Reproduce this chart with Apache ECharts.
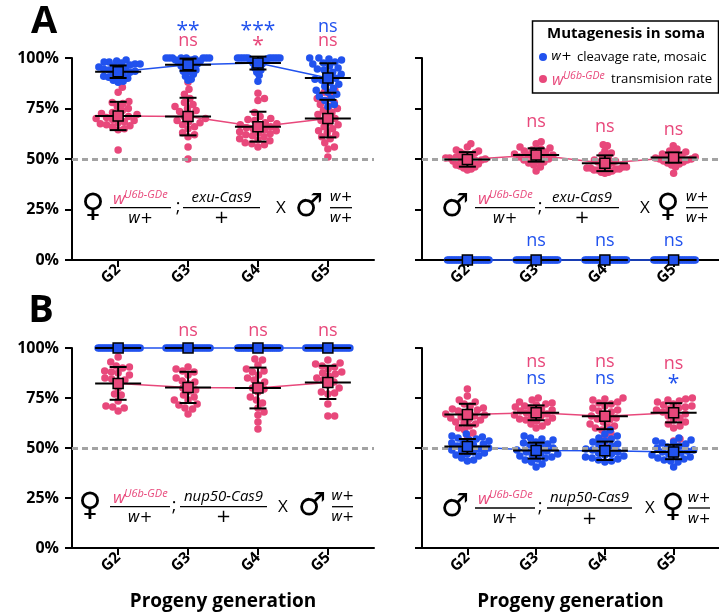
<!DOCTYPE html>
<html>
<head>
<meta charset="utf-8">
<script src="https://cdn.jsdelivr.net/npm/echarts@6/dist/echarts.min.js"></script>
<style>
  html, body { margin: 0; padding: 0; background: #fff; }
  #chart { width: 719px; height: 612px; }
</style>
</head>
<body>
<div id="chart"></div>
<script>
const generations = ['G2', 'G3', 'G4', 'G5'];
const yTicks = [0, 25, 50, 75, 100];

// Panel A, left: female wU6b-GDe ; exu-Cas9 carriers
const exuFemaleCleavage = [
  [99, 98.5, 98, 98, 97.5, 97, 97, 96.5, 96, 95.5, 95, 95, 94.5, 94, 93.5, 93, 92.5, 92, 91.5, 91, 90.5, 90, 89, 88.5, 88],
  [100, 100, 100, 100, 100, 100, 100, 100, 99.5, 99, 99, 98.5, 98, 98, 97.5, 97, 96.5, 96, 95.5, 95, 94, 93.5, 93, 92, 91, 89.5, 89],
  [100, 100, 100, 100, 100, 100, 100, 100, 100, 100, 99.5, 99, 99, 98.5, 98, 97.5, 97, 96, 95, 94, 93, 91.5, 88.5],
  [100, 100, 99.5, 99, 98, 97.5, 97, 96, 95, 94.5, 94, 93, 92, 91, 90, 89.5, 89, 88, 87, 86, 85, 84, 83, 82, 81, 80, 79, 77, 76]
];
const exuFemaleCleavageMean = [93.2, 96.7, 97.5, 90.1];
const exuFemaleCleavageSD = [3.1, 3.0, 3.2, 7.3];
const exuFemaleTransmission = [
  [85.5, 83, 78.5, 78, 77.5, 76, 75, 74, 73, 72.5, 72, 71.5, 71, 70.5, 70, 69.5, 69, 68.5, 68, 67.5, 67, 66.5, 66, 65, 64.5, 54.5],
  [88, 84.5, 82, 80, 78, 77, 76, 75, 74, 73.5, 72, 71, 70, 69, 68.5, 68, 67, 66, 65, 63, 62, 61, 56, 50],
  [82.5, 80, 79, 73, 71, 70, 69.5, 69, 68, 67.5, 67, 66.5, 66, 65.5, 65, 64.5, 64, 63.5, 63, 62.5, 62, 61.5, 61, 60, 59.5, 59, 58, 57.5, 57, 56],
  [84, 83, 81.5, 80, 79, 78, 77, 76, 75, 74, 73, 72, 71, 70, 69, 68, 67, 66, 65, 64, 63, 62, 61, 60, 58, 56, 55, 51]
];
const exuFemaleTransmissionMean = [71.3, 71.0, 66.0, 70.0];
const exuFemaleTransmissionSD = [7.0, 9.3, 7.4, 9.3];

// Panel A, right: male wU6b-GDe ; exu-Cas9 carriers
const exuMaleCleavage = [
  [0, 0, 0, 0, 0, 0, 0, 0, 0, 0, 0, 0, 0, 0, 0, 0, 0, 0, 0, 0, 0, 0, 0, 0],
  [0, 0, 0, 0, 0, 0, 0, 0, 0, 0, 0, 0, 0, 0, 0, 0, 0, 0, 0, 0, 0, 0, 0, 0],
  [0, 0, 0, 0, 0, 0, 0, 0, 0, 0, 0, 0, 0, 0, 0, 0, 0, 0, 0, 0, 0, 0, 0, 0],
  [0, 0, 0, 0, 0, 0, 0, 0, 0, 0, 0, 0, 0, 0, 0, 0, 0, 0, 0, 0, 0, 0, 0, 0]
];
const exuMaleCleavageMean = [0, 0, 0, 0];
const exuMaleCleavageSD = [0, 0, 0, 0];
const exuMaleTransmission = [
  [57.5, 56, 54.5, 54, 53.5, 53, 52.5, 52, 51.5, 51, 50.5, 50.5, 50, 50, 49.5, 49.5, 49, 49, 48.5, 48, 47.5, 47, 46.5, 46, 45.5, 45, 44.5],
  [58.5, 57.5, 56, 55.5, 55, 54.5, 54, 53.5, 53, 52.5, 52, 52, 51.5, 51, 50.5, 50, 49.5, 49, 48.5, 48, 47, 46, 44],
  [57, 56.5, 54, 53, 52, 51, 50, 49.5, 49, 48.5, 48, 47.5, 47, 46.5, 46, 46, 45.5, 45.5, 45, 45, 44.5, 44.5, 44, 43.5, 43.5, 43],
  [56.5, 55, 54, 53.5, 53, 52.5, 52, 51.5, 51, 51, 50.5, 50.5, 50, 50, 49.5, 49.5, 49, 48.5, 48, 47.5, 47, 46, 43]
];
const exuMaleTransmissionMean = [49.8, 52.0, 47.9, 50.7];
const exuMaleTransmissionSD = [3.6, 3.3, 3.9, 2.5];

// Panel B, left: female wU6b-GDe ; nup50-Cas9 carriers
const nupFemaleCleavage = [
  [100, 100, 100, 100, 100, 100, 100, 100, 100, 100, 100, 100, 100, 100, 100, 100, 100, 100, 100, 100, 100, 100],
  [100, 100, 100, 100, 100, 100, 100, 100, 100, 100, 100, 100, 100, 100, 100, 100, 100, 100, 100, 100, 100],
  [100, 100, 100, 100, 100, 100, 100, 100, 100, 100, 100, 100, 100, 100, 100, 100, 100, 100, 100, 100, 100, 100, 100, 100],
  [100, 100, 100, 100, 100, 100, 100, 100, 100, 100, 100, 100, 100, 100, 100, 100, 100, 100, 100, 100, 100]
];
const nupFemaleCleavageMean = [100, 100, 100, 100];
const nupFemaleCleavageSD = [0, 0, 0, 0];
const nupFemaleTransmission = [
  [95.5, 93, 91, 90.5, 90, 88.5, 88, 87.5, 86.5, 85, 84.5, 84, 83.5, 80, 77, 76.5, 73.5, 71, 70.5, 70, 68.5],
  [90.5, 89.5, 88.5, 88, 86.5, 85, 83.5, 83, 82, 80, 79, 78.5, 76.5, 75.5, 74, 74, 72, 71.5, 70, 69.5, 67],
  [94.5, 94, 91.5, 89.5, 88.5, 88, 86.5, 85, 84, 83, 81.5, 80, 79.5, 78, 75.5, 74, 72.5, 70, 68, 66.5, 63, 59.5],
  [94, 92.5, 92, 91, 90.5, 89.5, 88, 87.5, 87, 86, 85, 84, 83, 81.5, 80, 78, 77.5, 77, 72, 66, 66]
];
const nupFemaleTransmissionMean = [82.3, 80.3, 80.0, 82.8];
const nupFemaleTransmissionSD = [8.2, 7.8, 10.2, 8.3];

// Panel B, right: male wU6b-GDe ; nup50-Cas9 carriers
const nupMaleCleavage = [
  [57, 56, 55.5, 55, 54.5, 54, 53.5, 53, 52.5, 52, 51.5, 51, 50.5, 50, 49.5, 49, 48.5, 48, 47.5, 47, 46.5, 46, 45, 44, 43.5],
  [56, 55, 54.5, 54, 53, 52.5, 52, 51.5, 51, 50, 49.5, 49, 48.5, 48, 47.5, 47, 46.5, 46, 45.5, 45, 44.5, 44, 43, 42, 40.5],
  [59, 57, 56, 55, 54.5, 53.5, 53, 52, 51.5, 51, 50, 49.5, 49, 48, 47.5, 47, 46.5, 46, 45.5, 45, 44.5, 44, 43.5, 43],
  [55, 54, 53.5, 53, 52.5, 52, 51, 50.5, 50, 49.5, 49, 48.5, 48, 47.5, 47, 46.5, 46, 45.5, 45, 44.5, 44, 43.5, 43, 40.5]
];
const nupMaleCleavageMean = [50.8, 48.7, 48.6, 48.0];
const nupMaleCleavageSD = [3.7, 4.0, 4.6, 3.6];
const nupMaleTransmission = [
  [79.5, 76, 74, 73, 72, 71, 70, 69.5, 69, 68.5, 68, 67, 66.5, 66, 65.5, 65, 64.5, 64, 63, 62.5, 62, 61, 60, 59, 57.5, 56],
  [75, 74, 73, 72.5, 72, 71.5, 71, 70.5, 70, 69.5, 69, 68.5, 68, 67.5, 67, 66.5, 66, 65.5, 65, 64.5, 64, 63.5, 63, 62, 61, 60],
  [75, 74.5, 74, 73, 72.5, 72, 71, 70, 69, 68.5, 68, 67, 66, 65, 64.5, 64, 63, 62, 61, 60.5, 60, 59, 57.5, 56, 51],
  [75, 74.5, 74, 73.5, 73, 72, 71.5, 71, 70.5, 70, 69.5, 69, 68, 67.5, 67, 66, 65, 64, 63, 62, 61, 60, 54.5, 53.5]
];
const nupMaleTransmissionMean = [66.7, 67.6, 65.9, 67.6];
const nupMaleTransmissionSD = [5.4, 3.7, 6.5, 4.8];

// Significance marks per generation (vs G2)
const exuFemaleCleavageSig = ['', '**', '***', 'ns'];
const exuFemaleTransmissionSig = ['', 'ns', '*', 'ns'];
const exuMaleCleavageSig = ['', 'ns', 'ns', 'ns'];
const exuMaleTransmissionSig = ['', 'ns', 'ns', 'ns'];
const nupFemaleTransmissionSig = ['', 'ns', 'ns', 'ns'];
const nupMaleCleavageSig = ['', 'ns', 'ns', '*'];
const nupMaleTransmissionSig = ['', 'ns', 'ns', 'ns'];

const BLUE = '#2152ee';
const PINK = '#e8487b';
const FONT = '"Open Sans", "DejaVu Sans", sans-serif';

const panels = [
  { grid: { left: 72, top: 58, width: 302, height: 202 }, showY: true, xName: '',
    blue: exuFemaleCleavage, blueMean: exuFemaleCleavageMean, blueSD: exuFemaleCleavageSD,
    pink: exuFemaleTransmission, pinkMean: exuFemaleTransmissionMean, pinkSD: exuFemaleTransmissionSD },
  { grid: { left: 422, top: 58, width: 302, height: 202 }, showY: false, xName: '',
    blue: exuMaleCleavage, blueMean: exuMaleCleavageMean, blueSD: exuMaleCleavageSD,
    pink: exuMaleTransmission, pinkMean: exuMaleTransmissionMean, pinkSD: exuMaleTransmissionSD },
  { grid: { left: 72, top: 348, width: 302, height: 201.5 }, showY: true, xName: 'Progeny generation',
    blue: nupFemaleCleavage, blueMean: nupFemaleCleavageMean, blueSD: nupFemaleCleavageSD,
    pink: nupFemaleTransmission, pinkMean: nupFemaleTransmissionMean, pinkSD: nupFemaleTransmissionSD },
  { grid: { left: 422, top: 348, width: 302, height: 201.5 }, showY: false, xName: 'Progeny generation',
    blue: nupMaleCleavage, blueMean: nupMaleCleavageMean, blueSD: nupMaleCleavageSD,
    pink: nupMaleTransmission, pinkMean: nupMaleTransmissionMean, pinkSD: nupMaleTransmissionSD }
];

const chart = echarts.init(document.getElementById('chart'), null, { renderer: 'canvas' });

const genTicks = [1, 2, 3, 4];
const baseOption = {
  animation: false,
  backgroundColor: '#fff',
  grid: panels.map(p => Object.assign({ containLabel: false }, p.grid)),
  xAxis: panels.map((p, i) => ({
    type: 'value', gridIndex: i, min: 0.34, max: 4.66,
    name: p.xName, nameLocation: 'middle', nameGap: 44,
    nameTextStyle: { fontFamily: FONT, fontWeight: 'bold', fontSize: 19, color: '#000' },
    axisLine: { onZero: false, lineStyle: { color: '#000', width: 2 } },
    axisTick: { customValues: genTicks, length: 7, lineStyle: { color: '#000', width: 2 } },
    axisLabel: { customValues: genTicks, rotate: 45, margin: 7, color: '#000',
      fontFamily: FONT, fontWeight: 'bold', fontSize: 15.5,
      formatter: v => generations[Math.round(v) - 1] || '' },
    splitLine: { show: false }
  })),
  yAxis: panels.map((p, i) => ({
    type: 'value', gridIndex: i, min: yTicks[0], max: yTicks[yTicks.length - 1], interval: 25,
    axisLine: { show: true, onZero: false, lineStyle: { color: '#000', width: 2 } },
    axisTick: { show: true, length: 7, lineStyle: { color: '#000', width: 2 } },
    axisLabel: { show: p.showY, formatter: '{value}%', color: '#000', margin: 13,
      fontFamily: FONT, fontWeight: 'bold', fontSize: 16 },
    splitLine: { show: false }
  }))
};
chart.setOption(baseOption);

// Pixel scale of the data axes, used to spread points sideways
const o = chart.convertToPixel({ gridIndex: 0 }, [1, 0]);
const q = chart.convertToPixel({ gridIndex: 0 }, [2, 100]);
const pxPerGen = q[0] - o[0];
const pxPerPct = (o[1] - q[1]) / 100;

// Beeswarm offsets (in pixels) for one column of values
function swarm(values, d, maxHalf) {
  const pts = values.map((v, i) => ({ y: v * pxPerPct, i }));
  pts.sort((a, b) => a.y - b.y);
  const placed = [];
  const off = new Array(values.length).fill(0);
  for (const p of pts) {
    const cands = [0];
    for (const r of placed) {
      const dy = Math.abs(p.y - r.y);
      if (dy < d) {
        const dx = Math.sqrt(d * d - dy * dy);
        cands.push(r.x + dx, r.x - dx);
      }
    }
    cands.sort((a, b) => Math.abs(a) - Math.abs(b) || b - a);
    let chosen = 0;
    for (const c of cands) {
      if (placed.every(r => (r.x - c) ** 2 + (r.y - p.y) ** 2 >= d * d - 1e-6)) { chosen = c; break; }
    }
    p.x = chosen;
    placed.push(p);
    off[p.i] = chosen;
  }
  const m = Math.max(...off.map(Math.abs));
  if (m > maxHalf) for (let k = 0; k < off.length; k++) off[k] *= maxHalf / m;
  return off;
}

function pointData(groups) {
  const out = [];
  groups.forEach((vals, g) => {
    const off = swarm(vals, 6.8, 22);
    vals.forEach((v, k) => out.push([g + 1 + off[k] / pxPerGen, v]));
  });
  return out;
}

function errorBars(mean, sd) {
  return mean.map((m, g) => [g + 1, m, sd[g]]);
}

function renderErr(params, api) {
  const x = api.value(0), m = api.value(1), s = api.value(2);
  const c = api.coord([x, m]);
  const st = { stroke: '#000', lineWidth: 2 };
  const kids = [{ type: 'line', shape: { x1: c[0] - 23, y1: c[1], x2: c[0] + 23, y2: c[1] }, style: st }];
  if (s > 0) {
    const t = api.coord([x, m + s]), b = api.coord([x, m - s]);
    kids.push({ type: 'line', shape: { x1: c[0], y1: t[1], x2: c[0], y2: b[1] }, style: st });
    kids.push({ type: 'line', shape: { x1: c[0] - 8.5, y1: t[1], x2: c[0] + 8.5, y2: t[1] }, style: st });
    kids.push({ type: 'line', shape: { x1: c[0] - 8.5, y1: b[1], x2: c[0] + 8.5, y2: b[1] }, style: st });
  }
  return { type: 'group', children: kids };
}

const series = [];
panels.forEach((p, i) => {
  const ax = { xAxisIndex: i, yAxisIndex: i };
  series.push(Object.assign({
    type: 'line', data: [], z: 1, silent: true,
    markLine: { silent: true, symbol: 'none', label: { show: false },
      lineStyle: { color: '#a3a3a3', width: 3, type: [6, 4] },
      data: [{ yAxis: 50 }] }
  }, ax));
  series.push(Object.assign({ type: 'scatter', clip: false, z: 2, symbolSize: 7.5,
    itemStyle: { color: PINK, opacity: 1 }, data: pointData(p.pink) }, ax));
  series.push(Object.assign({ type: 'scatter', clip: false, z: 3, symbolSize: 7.5,
    itemStyle: { color: BLUE, opacity: 1 }, data: pointData(p.blue) }, ax));
  series.push(Object.assign({ type: 'line', z: 4, symbol: 'none', clip: false,
    lineStyle: { color: PINK, width: 1.5 }, data: p.pinkMean.map((m, g) => [g + 1, m]) }, ax));
  series.push(Object.assign({ type: 'line', z: 4, symbol: 'none', clip: false,
    lineStyle: { color: BLUE, width: 1.5 }, data: p.blueMean.map((m, g) => [g + 1, m]) }, ax));
  series.push(Object.assign({ type: 'custom', z: 5, clip: false, renderItem: renderErr,
    data: errorBars(p.pinkMean, p.pinkSD) }, ax));
  series.push(Object.assign({ type: 'custom', z: 5, clip: false, renderItem: renderErr,
    data: errorBars(p.blueMean, p.blueSD) }, ax));
  series.push(Object.assign({ type: 'scatter', z: 6, clip: false, symbol: 'rect', symbolSize: 10,
    itemStyle: { color: PINK, borderColor: '#000', borderWidth: 1.5, opacity: 1 },
    data: p.pinkMean.map((m, g) => [g + 1, m]) }, ax));
  series.push(Object.assign({ type: 'scatter', z: 6, clip: false, symbol: 'rect', symbolSize: 10,
    itemStyle: { color: BLUE, borderColor: '#000', borderWidth: 1.5, opacity: 1 },
    data: p.blueMean.map((m, g) => [g + 1, m]) }, ax));
});

// ---------- text overlays ----------
const graphics = [];
function txt(x, y, s, o2) {
  graphics.push({ type: 'text', x, y, z: 50, style: Object.assign({
    text: s, fill: '#000', fontFamily: FONT, fontSize: 15, align: 'center', verticalAlign: 'middle'
  }, o2 || {}) });
}
function hline(x1, x2, y, w) {
  graphics.push({ type: 'line', z: 50, shape: { x1, y1: y, x2, y2: y }, style: { stroke: '#000', lineWidth: w || 1.3 } });
}

// significance marks
function sigRow(gridIndex, labels, color, ys) {
  labels.forEach((s, g) => {
    if (!s) return;
    const px = chart.convertToPixel({ gridIndex }, [g + 1, 0])[0];
    const star = s.indexOf('*') >= 0;
    txt(px, ys[g] + (star ? 5 : 0), s, { fill: color, fontSize: star ? 21 : 18 });
  });
}
sigRow(0, exuFemaleCleavageSig, BLUE, [0, 26, 26, 27]);
sigRow(0, exuFemaleTransmissionSig, PINK, [0, 41, 41, 41]);
sigRow(1, exuMaleTransmissionSig, PINK, [0, 122, 127, 130]);
sigRow(1, exuMaleCleavageSig, BLUE, [0, 241, 241, 241]);
sigRow(2, nupFemaleTransmissionSig, PINK, [0, 331, 331, 331]);
sigRow(3, nupMaleTransmissionSig, PINK, [0, 362, 362, 364]);
sigRow(3, nupMaleCleavageSig, BLUE, [0, 379, 379, 379]);

// panel letters
txt(44, 22, 'A', { fontWeight: 'bold', fontSize: 38 });
txt(41, 311, 'B', { fontWeight: 'bold', fontSize: 38 });

// genotype crosses
const ALLELE = { fontStyle: 'italic', fontSize: 16, fontFamily: '"DejaVu Sans", sans-serif' };
function gdeAllele(left, y) {
  txt(left, y - 9, 'w', { fill: PINK, fontStyle: 'italic', fontSize: 17, align: 'left' });
  txt(left + 11, y - 13, 'U6b-GDe', { fill: PINK, fontStyle: 'italic', fontSize: 11, align: 'left' });
}
function cross(bar, a) {
  txt(a.s1, bar, a.sym1, { fontSize: 32, fontFamily: '"DejaVu Sans", sans-serif', fontWeight: 'bold' });
  gdeAllele(a.f1[0] + 3, bar);
  hline(a.f1[0], a.f1[1], bar);
  txt((a.f1[0] + a.f1[1]) / 2, bar + 11, 'w+', Object.assign({}, ALLELE, { fontSize: 15 }));
  txt(a.semi, bar - 1, ';', { fontSize: 18 });
  txt((a.f2[0] + a.f2[1]) / 2, bar - 10, a.cas, { fontStyle: 'italic', fontSize: 15 });
  hline(a.f2[0], a.f2[1], bar);
  txt((a.f2[0] + a.f2[1]) / 2, bar + 11, '+', { fontSize: 18, fontFamily: '"DejaVu Sans", sans-serif' });
  txt(a.x, bar, 'X', { fontSize: 17 });
  txt(a.s2, bar, a.sym2, { fontSize: 32, fontFamily: '"DejaVu Sans", sans-serif', fontWeight: 'bold' });
  const c3 = (a.f3[0] + a.f3[1]) / 2;
  txt(c3, bar - 10, 'w+', Object.assign({}, ALLELE, { fontSize: 14 }));
  hline(a.f3[0], a.f3[1], bar);
  txt(c3, bar + 11, 'w+', Object.assign({}, ALLELE, { fontSize: 14 }));
}
cross(207.7, { sym1: '♀', s1: 93, f1: [110, 171], semi: 178, f2: [183, 260], cas: 'exu-Cas9', x: 281, sym2: '♂', s2: 309, f3: [330, 352] });
cross(207.7, { sym1: '♂', s1: 455, f1: [475, 535], semi: 540, f2: [545, 619], cas: 'exu-Cas9', x: 645, sym2: '♀', s2: 668, f3: [686, 708] });
cross(506.7, { sym1: '♀', s1: 90, f1: [110, 170], semi: 174, f2: [180, 267], cas: 'nup50-Cas9', x: 283, sym2: '♂', s2: 312, f3: [332, 353] });
cross(508, { sym1: '♂', s1: 455, f1: [475, 535], semi: 540, f2: [547, 632], cas: 'nup50-Cas9', x: 650, sym2: '♀', s2: 673, f3: [688, 710] });

// legend box
graphics.push({ type: 'rect', z: 40, shape: { x: 532.5, y: 21, width: 186, height: 72 },
  style: { fill: '#fff', stroke: '#000', lineWidth: 1.5 } });
txt(626, 34, 'Mutagenesis in soma', { fontWeight: 'bold', fontSize: 15 });
graphics.push({ type: 'circle', z: 50, shape: { cx: 543, cy: 57, r: 4 }, style: { fill: BLUE } });
txt(551, 57, 'w+', Object.assign({}, ALLELE, { fontSize: 12.5, align: 'left' }));
txt(577, 57, 'cleavage rate, mosaic', { fontSize: 13, align: 'left' });
graphics.push({ type: 'circle', z: 50, shape: { cx: 543, cy: 79, r: 4 }, style: { fill: PINK } });
txt(552, 80, 'w', { fill: PINK, fontStyle: 'italic', fontSize: 16, align: 'left' });
txt(563, 76, 'U6b-GDe', { fill: PINK, fontStyle: 'italic', fontSize: 10.5, align: 'left' });
txt(611, 79, 'transmision rate', { fontSize: 13.2, align: 'left' });

chart.setOption({ series, graphic: { elements: graphics } });
</script>
</body>
</html>
